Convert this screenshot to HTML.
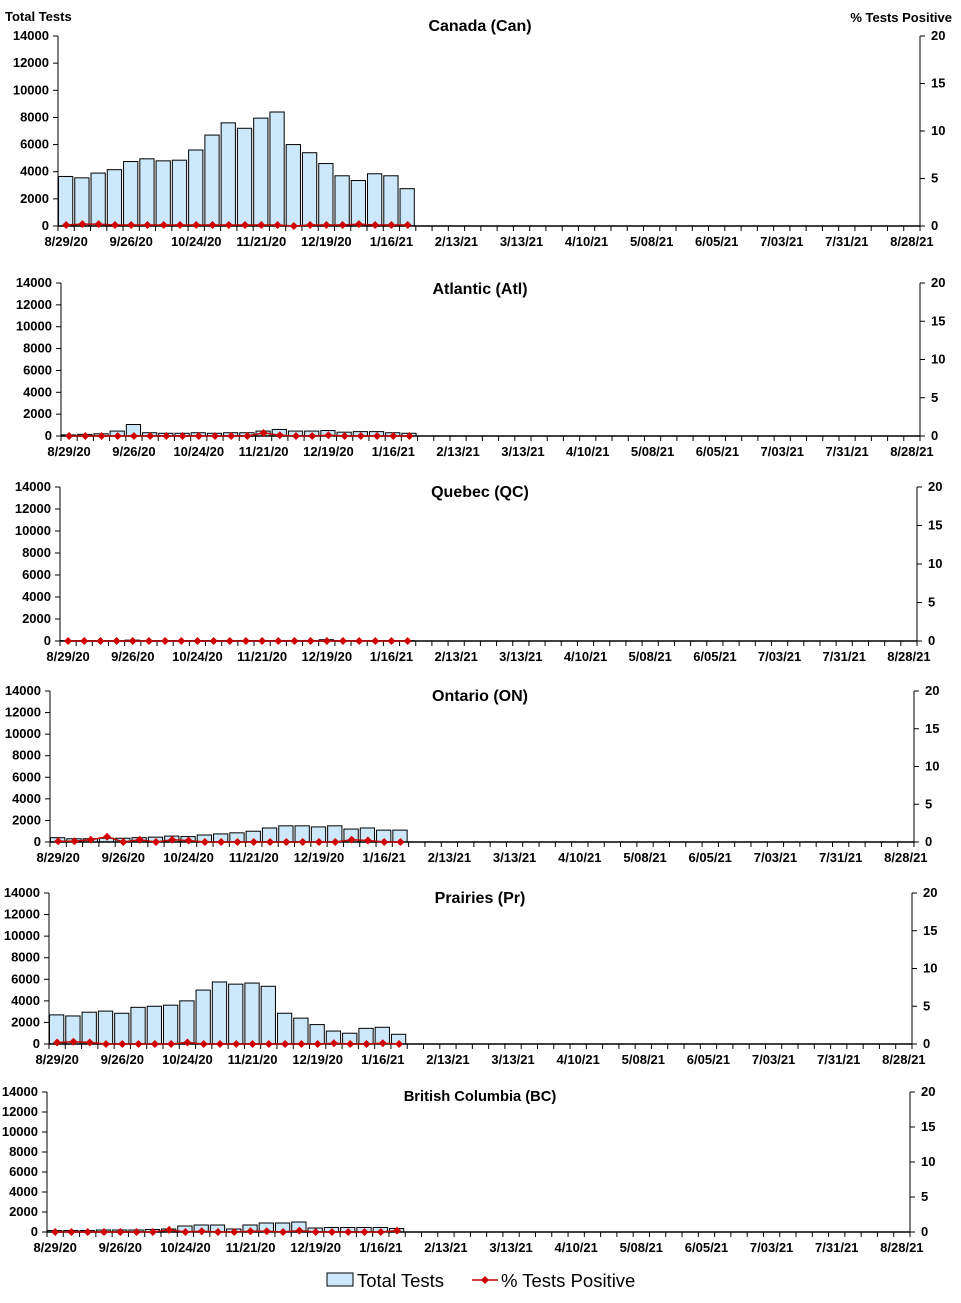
<!DOCTYPE html>
<html><head><meta charset="utf-8"><style>
body{margin:0;background:#fff}
svg{display:block;font-family:"Liberation Sans",Arial,sans-serif}
.t{font-size:13px;font-weight:bold}
.ti{font-size:16px;font-weight:bold}
</style></head><body>
<svg id="c" width="961" height="1303">
<text x="5" y="21" class="t">Total Tests</text>
<text x="952" y="22" class="t" text-anchor="end">% Tests Positive</text>
<g>
<rect x="327" y="1273" width="26" height="13" fill="#cce8fa" stroke="#000"/>
<text x="357" y="1287" font-size="18.5">Total Tests</text>
<line x1="472" y1="1280" x2="498" y2="1280" stroke="#c00000" stroke-width="1.5"/>
<path d="M485 1276 L489 1280 L485 1284 L481 1280Z" fill="#d00000"/>
<text x="501" y="1287" font-size="18.5">% Tests Positive</text>
</g>
</svg>
<script>
const xLabels=["8/29/20","9/26/20","10/24/20","11/21/20","12/19/20","1/16/21","2/13/21","3/13/21","4/10/21","5/08/21","6/05/21","7/03/21","7/31/21","8/28/21"];
const leftTicks=[0,2000,4000,6000,8000,10000,12000,14000];
const rightTicks=[0,5,10,15,20];
const regions=["Canada (Can)","Atlantic (Atl)","Quebec (QC)","Ontario (ON)","Prairies (Pr)","British Columbia (BC)"];
const canTests=[3650,3550,3900,4150,4750,4950,4800,4850,5600,6700,7600,7200,7950,8400,6000,5400,4600,3700,3350,3850,3700,2750];
const canPos=[0.1,0.2,0.2,0.1,0.1,0.1,0.1,0.1,0.1,0.1,0.1,0.1,0.1,0.1,0,0.1,0.1,0.1,0.2,0.1,0.1,0.1];
const atlTests=[100,150,200,450,1050,300,250,250,300,250,300,300,450,600,450,450,500,350,400,400,300,250];
const atlPos=[0,0,0,0,0,0,0,0,0,0,0,0,0.4,0.1,0,0,0.1,0,0,0,0,0];
const qcTests=[30,30,30,30,80,30,30,30,30,30,30,30,30,30,30,30,120,30,30,30,30,30];
const qcPos=[0,0,0,0,0,0,0,0,0,0,0,0,0,0,0,0,0,0,0,0,0,0];
const onTests=[400,300,300,350,350,400,450,550,500,650,750,850,1000,1300,1500,1500,1400,1500,1200,1300,1100,1100];
const onPos=[0.1,0.1,0.3,0.7,0,0.3,0,0.3,0.2,0,0,0,0,0,0,0,0,0,0.3,0.2,0,0];
const prTests=[2700,2600,2950,3050,2850,3400,3500,3600,4000,5000,5750,5550,5650,5350,2850,2400,1800,1200,1000,1450,1550,900];
const prPos=[0.2,0.3,0.2,0,0,0,0,0,0.2,0,0,0,0,0,0,0,0,0.1,0,0,0.1,0];
const bcTests=[150,150,150,200,200,200,250,300,600,700,700,300,700,900,900,1000,400,450,450,450,450,350];
const bcPos=[0,0,0,0,0,0,0,0.3,0,0.1,0,0,0.1,0.1,0,0.2,0,0,0,0,0,0.2];
const testsData=[canTests,atlTests,qcTests,onTests,prTests,bcTests];
const posData=[canPos,atlPos,qcPos,onPos,prPos,bcPos];
const geo=[[58,920,36,226],[61,920,283,436],[60,917,487,641],[50,914,691,842],[49,912,893,1044],[47,910,1092,1232]];
const titleY=[31,294,497,701,903,1101];
const titleSize=[16,16,16,16,16,14.7];
const NS="http://www.w3.org/2000/svg",svg=document.getElementById('c');
function mk(t,a,p){const e=document.createElementNS(NS,t);for(const k in a)e.setAttribute(k,a[k]);(p||svg).appendChild(e);return e;}
const SLOTS=53;
regions.forEach((name,i)=>{
 const [L,R,T,B]=geo[i];const g=mk('g',{});
 
 
 const sw=(R-L)/SLOTS;
 const xs=k=>L+k*sw, yL=v=>B-(v/14000)*(B-T), yR=v=>B-(v/20)*(B-T);
 const tt=mk('text',{x:480,y:titleY[i],'text-anchor':'middle','class':'ti','font-size':titleSize[i],style:'font-size:'+titleSize[i]+'px'},g);tt.textContent=name;
 
 
 testsData[i].forEach((v,k)=>{const r=mk('rect',{x:xs(k)+0.5,y:yL(v),width:sw-2,height:B-yL(v),fill:'#cce8fa',stroke:'#000','stroke-width':1},g);
  
  });
 mk('line',{x1:L,y1:T,x2:L,y2:B,stroke:'#000'},g);
 mk('line',{x1:R,y1:T,x2:R,y2:B,stroke:'#000'},g);
 mk('line',{x1:L,y1:B,x2:R,y2:B,stroke:'#000','stroke-width':1.5},g);
 for(let k=0;k<=SLOTS;k++)mk('line',{x1:xs(k),y1:B,x2:xs(k),y2:B+5,stroke:'#000'},g);
 leftTicks.forEach(v=>{mk('line',{x1:L-5,y1:yL(v),x2:L,y2:yL(v),stroke:'#000'},g);
  const t=mk('text',{x:L-9,y:yL(v)+4,'text-anchor':'end','class':'t'},g);t.textContent=v;
  
  });
 rightTicks.forEach(v=>{mk('line',{x1:R,y1:yR(v),x2:R+5,y2:yR(v),stroke:'#000'},g);
  const t=mk('text',{x:R+11,y:yR(v)+4,'class':'t'},g);t.textContent=v;
  
  });
 xLabels.forEach((s,j)=>{const t=mk('text',{x:xs(j*4+0.5),y:B+20,'text-anchor':'middle','class':'t'},g);t.textContent=s;
  
  });
 const pts=posData[i].map((v,k)=>[xs(k+0.5),yR(v)]);
 const pl=mk('polyline',{points:pts.map(p=>p.join(',')).join(' '),fill:'none',stroke:'#c00000','stroke-width':1.5},g);
 
 
 pts.forEach(p=>{const m=mk('path',{d:`M${p[0]} ${p[1]-4}L${p[0]+4} ${p[1]}L${p[0]} ${p[1]+4}L${p[0]-4} ${p[1]}Z`,fill:'#d00000'},g);
  
  });
});
</script>
</body></html>
